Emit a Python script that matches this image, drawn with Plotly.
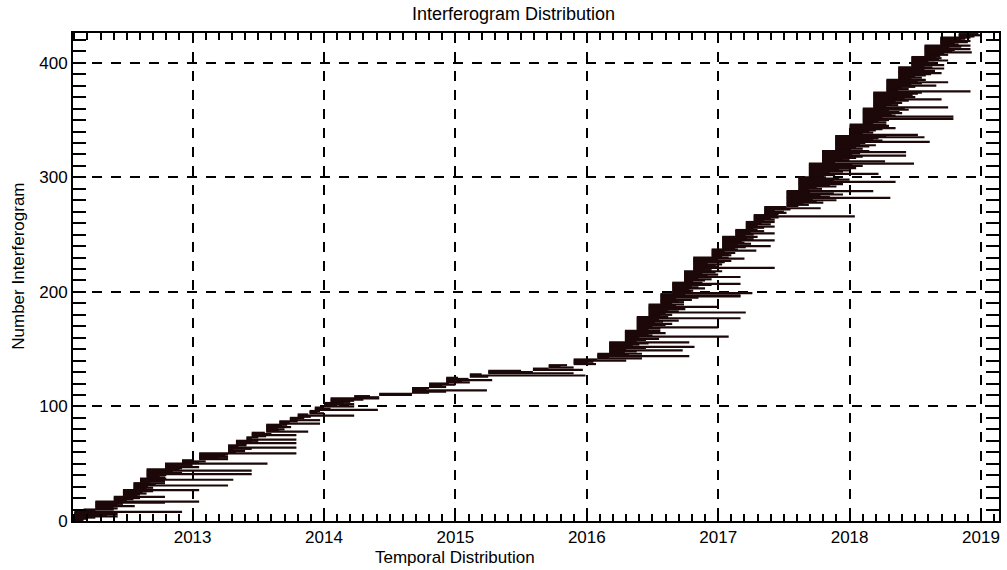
import plotly.graph_objects as go

# Master (reference) acquisition date of each group of interferograms, decimal years
master_dates = [
    2012.10, 2012.17, 2012.26, 2012.40, 2012.47, 2012.55, 2012.60, 2012.65, 2012.79, 2012.92,
    2013.05, 2013.27, 2013.33, 2013.41, 2013.45, 2013.56, 2013.66, 2013.74, 2013.80, 2013.89,
    2013.93, 2014.00, 2014.05, 2014.23, 2014.42, 2014.67, 2014.80, 2014.93, 2015.11, 2015.25,
    2015.59, 2015.71, 2015.90, 2016.08, 2016.17, 2016.29, 2016.38, 2016.47, 2016.56, 2016.65,
    2016.74, 2016.81, 2016.95, 2017.03, 2017.13, 2017.21, 2017.27, 2017.35, 2017.52, 2017.61,
    2017.69, 2017.79, 2017.89, 2018.00, 2018.10, 2018.18, 2018.28, 2018.37, 2018.47, 2018.57,
    2018.69, 2018.83,
]

# Slave (secondary) acquisition dates of the interferograms of each group, decimal years
slave_dates = [
    [2012.15, 2012.17, 2012.20, 2012.26, 2012.43, 2012.35, 2012.43, 2012.30, 2012.92],
    [2012.26, 2012.40],
    [2012.43, 2012.40, 2012.56, 2012.43, 2012.47, 2012.79, 2013.05],
    [2012.50, 2012.55, 2012.60, 2012.79],
    [2012.58, 2012.60, 2012.65, 2012.62, 2012.70, 2013.05],
    [2012.65, 2012.70, 2012.66, 2013.27, 2012.72, 2012.79],
    [2012.68, 2012.79, 2013.31, 2012.80],
    [2012.79, 2012.75, 2012.80, 2013.45, 2012.92, 2012.85, 2013.45, 2012.90],
    [2012.92, 2013.05, 2012.90, 2013.00, 2013.57],
    [2013.05, 2013.10, 2013.00],
    [2013.27, 2013.20, 2013.27, 2013.25, 2013.27, 2013.79],
    [2013.33, 2013.40, 2013.31, 2013.45, 2013.79, 2013.35, 2013.41],
    [2013.41, 2013.79, 2013.45, 2013.50],
    [2013.79, 2013.45, 2013.50],
    [2013.56, 2013.79, 2013.60, 2013.55],
    [2013.88, 2013.66, 2013.70, 2013.65, 2013.75, 2013.68, 2013.72],
    [2013.97, 2013.74, 2013.80],
    [2013.97, 2013.80, 2013.85],
    [2013.90, 2014.23, 2013.88],
    [2014.00, 2013.95, 2013.97],
    [2014.41, 2014.05, 2014.00],
    [2014.23, 2014.10, 2014.23, 2014.15],
    [2014.20, 2014.23, 2014.30, 2014.42],
    [2014.42, 2014.35],
    [2014.67, 2014.67],
    [2014.80, 2014.93, 2015.24, 2014.78, 2014.80],
    [2014.93, 2014.90, 2015.00, 2014.95],
    [2015.11, 2015.05, 2015.28, 2015.10, 2015.02],
    [2015.25, 2015.99, 2015.20],
    [2015.90, 2015.59, 2015.50],
    [2015.97, 2015.71],
    [2015.90, 2015.80, 2015.85],
    [2016.07, 2016.00, 2016.05, 2016.30, 2016.08],
    [2016.42, 2016.17, 2016.78, 2016.32, 2016.42],
    [2016.29, 2016.38, 2016.73, 2016.30, 2016.45, 2016.82, 2016.35, 2016.40, 2016.47, 2016.78],
    [2016.38, 2016.45, 2016.55, 2016.40, 2017.08, 2016.50, 2016.47, 2016.60, 2016.42, 2016.56],
    [2016.47, 2016.56, 2017.00, 2016.50, 2016.60, 2016.65, 2016.52, 2016.58, 2016.70, 2016.55, 2017.17, 2016.62],
    [2016.56, 2016.65, 2016.60, 2017.21, 2016.70, 2016.62, 2016.75, 2016.58, 2017.00, 2016.68, 2016.74],
    [2016.65, 2016.74, 2016.70, 2016.80, 2016.68, 2016.85, 2017.17, 2017.17, 2016.75],
    [2017.26, 2016.74, 2016.81, 2016.78, 2016.90, 2016.85, 2016.80, 2016.95, 2017.17, 2016.88],
    [2016.81, 2016.90, 2016.95, 2016.85, 2017.17, 2016.92, 2017.00, 2016.88, 2016.98, 2017.03],
    [2016.95, 2016.90, 2017.43, 2017.00, 2016.98, 2017.03, 2016.92, 2017.05, 2017.10, 2017.00, 2017.20, 2017.08],
    [2017.03, 2017.10, 2017.08, 2017.13, 2017.05, 2017.29, 2017.15],
    [2017.13, 2017.21, 2017.40, 2017.15, 2017.25, 2017.20, 2017.18, 2017.43, 2017.27, 2017.22, 2017.30],
    [2017.21, 2017.27, 2017.43, 2017.25, 2017.35, 2017.30],
    [2017.27, 2017.35, 2017.43, 2017.30, 2017.40, 2017.33, 2017.43],
    [2017.35, 2017.43, 2017.40, 2017.46, 2018.04, 2017.45],
    [2017.46, 2017.52, 2017.50, 2017.43, 2017.55, 2017.78, 2017.52],
    [2017.61, 2017.69, 2017.65, 2017.80, 2017.75, 2017.90, 2017.72, 2018.31, 2017.85, 2017.78, 2017.95, 2017.88, 2017.70, 2018.18],
    [2017.69, 2017.79, 2017.75, 2017.90, 2017.85, 2017.95, 2017.80, 2018.35, 2017.88, 2018.00, 2017.92, 2017.82],
    [2017.79, 2017.89, 2018.22, 2017.85, 2017.95, 2018.00, 2017.92, 2018.05, 2017.90, 2018.10, 2018.02, 2018.49],
    [2017.89, 2018.27, 2018.00, 2017.95, 2018.05, 2018.10, 2018.43, 2018.02, 2018.08, 2018.43, 2018.15],
    [2018.00, 2018.10, 2018.05, 2018.15, 2018.20, 2018.08, 2018.12, 2018.61, 2018.25, 2018.18, 2018.22, 2018.57, 2018.28],
    [2018.52, 2018.10, 2018.18, 2018.15, 2018.20, 2018.25, 2018.35, 2018.22, 2018.30, 2018.28],
    [2018.18, 2018.28, 2018.22, 2018.30, 2018.79, 2018.25, 2018.79, 2018.35, 2018.32, 2018.40, 2018.38, 2018.30, 2018.45, 2018.42],
    [2018.75, 2018.28, 2018.37, 2018.32, 2018.40, 2018.35, 2018.45, 2018.70, 2018.42, 2018.50, 2018.38, 2018.48, 2018.52, 2018.55],
    [2018.92, 2018.37, 2018.45, 2018.40, 2018.50, 2018.66, 2018.47, 2018.55, 2018.75, 2018.52, 2018.58],
    [2018.47, 2018.55, 2018.50, 2018.58, 2018.62, 2018.70, 2018.60, 2018.65, 2018.57, 2018.72, 2018.63],
    [2018.57, 2018.72, 2018.62, 2018.65, 2018.60, 2018.75, 2018.68, 2018.70, 2018.66],
    [2018.69, 2018.75, 2018.72, 2018.93, 2018.78, 2018.80, 2018.92, 2018.76, 2018.85, 2018.92],
    [2018.83, 2018.80, 2018.90, 2018.92, 2018.85, 2018.88, 2018.92],
    [2018.95, 2019.00, 2018.98],
]

x_tick_years = [2013, 2014, 2015, 2016, 2017, 2018, 2019]
y_tick_values = [0, 100, 200, 300, 400]

title_text = "Interferogram Distribution"
x_title = "Temporal Distribution"
y_title = "Number Interferogram"

# Build one horizontal segment per interferogram (row index = interferogram number)
xs, ys = [], []
row = 0
for m, ends in zip(master_dates, slave_dates):
    for e in ends:
        xs += [m, e, None]
        ys += [row, row, None]
        row += 1

line_color = "#1c0808"
fig = go.Figure()
fig.add_trace(go.Scatter(x=xs, y=ys, mode="lines",
                         line=dict(color=line_color, width=2.2),
                         hoverinfo="skip", showlegend=False))

font_family = "Liberation Sans, Arial, Helvetica, sans-serif"

fig.update_layout(
    width=1007, height=570,
    margin=dict(l=73, r=6, t=33, b=49, pad=0),
    paper_bgcolor="white", plot_bgcolor="white",
    font=dict(family=font_family, size=17, color="black"),
    showlegend=False,
    xaxis=dict(
        range=[2012.09, 2019.137],
        tickmode="array", tickvals=x_tick_years, ticktext=[str(v) for v in x_tick_years],
        ticks="inside", ticklen=7, tickwidth=2, tickcolor="black",
        showline=True, linewidth=2, linecolor="black", mirror="ticks",
        showgrid=True, gridcolor="black", gridwidth=2, griddash="10px,9px",
        zeroline=False,
        tickfont=dict(size=17, family=font_family, color="black"),
        minor=dict(dtick=0.1, tick0=2013, ticks="inside", ticklen=7, tickwidth=2,
                   tickcolor="black", showgrid=False),
    ),
    yaxis=dict(
        range=[0, 426],
        tickmode="array", tickvals=y_tick_values, ticktext=[str(v) for v in y_tick_values],
        ticks="inside", ticklen=13, tickwidth=2, tickcolor="black",
        showline=True, linewidth=2, linecolor="black", mirror="ticks",
        showgrid=True, gridcolor="black", gridwidth=2, griddash="10px,9px",
        zeroline=False,
        tickfont=dict(size=17, family=font_family, color="black"),
        minor=dict(dtick=10, tick0=0, ticks="inside", ticklen=13, tickwidth=2,
                   tickcolor="black", showgrid=False),
    ),
    annotations=[
        dict(text=title_text, xref="paper", yref="paper", x=0.476, y=1.039,
             xanchor="center", yanchor="middle", showarrow=False,
             font=dict(size=18, family=font_family, color="black")),
        dict(text=x_title, xref="paper", yref="paper", x=0.4125, y=-0.0738,
             xanchor="center", yanchor="middle", showarrow=False,
             font=dict(size=17, family=font_family, color="black")),
        dict(text=y_title, xref="paper", yref="paper", x=-0.0589, y=0.522,
             xanchor="center", yanchor="middle", showarrow=False, textangle=-90,
             font=dict(size=17, family=font_family, color="black")),
    ],
)

fig.write_html("out.html")
